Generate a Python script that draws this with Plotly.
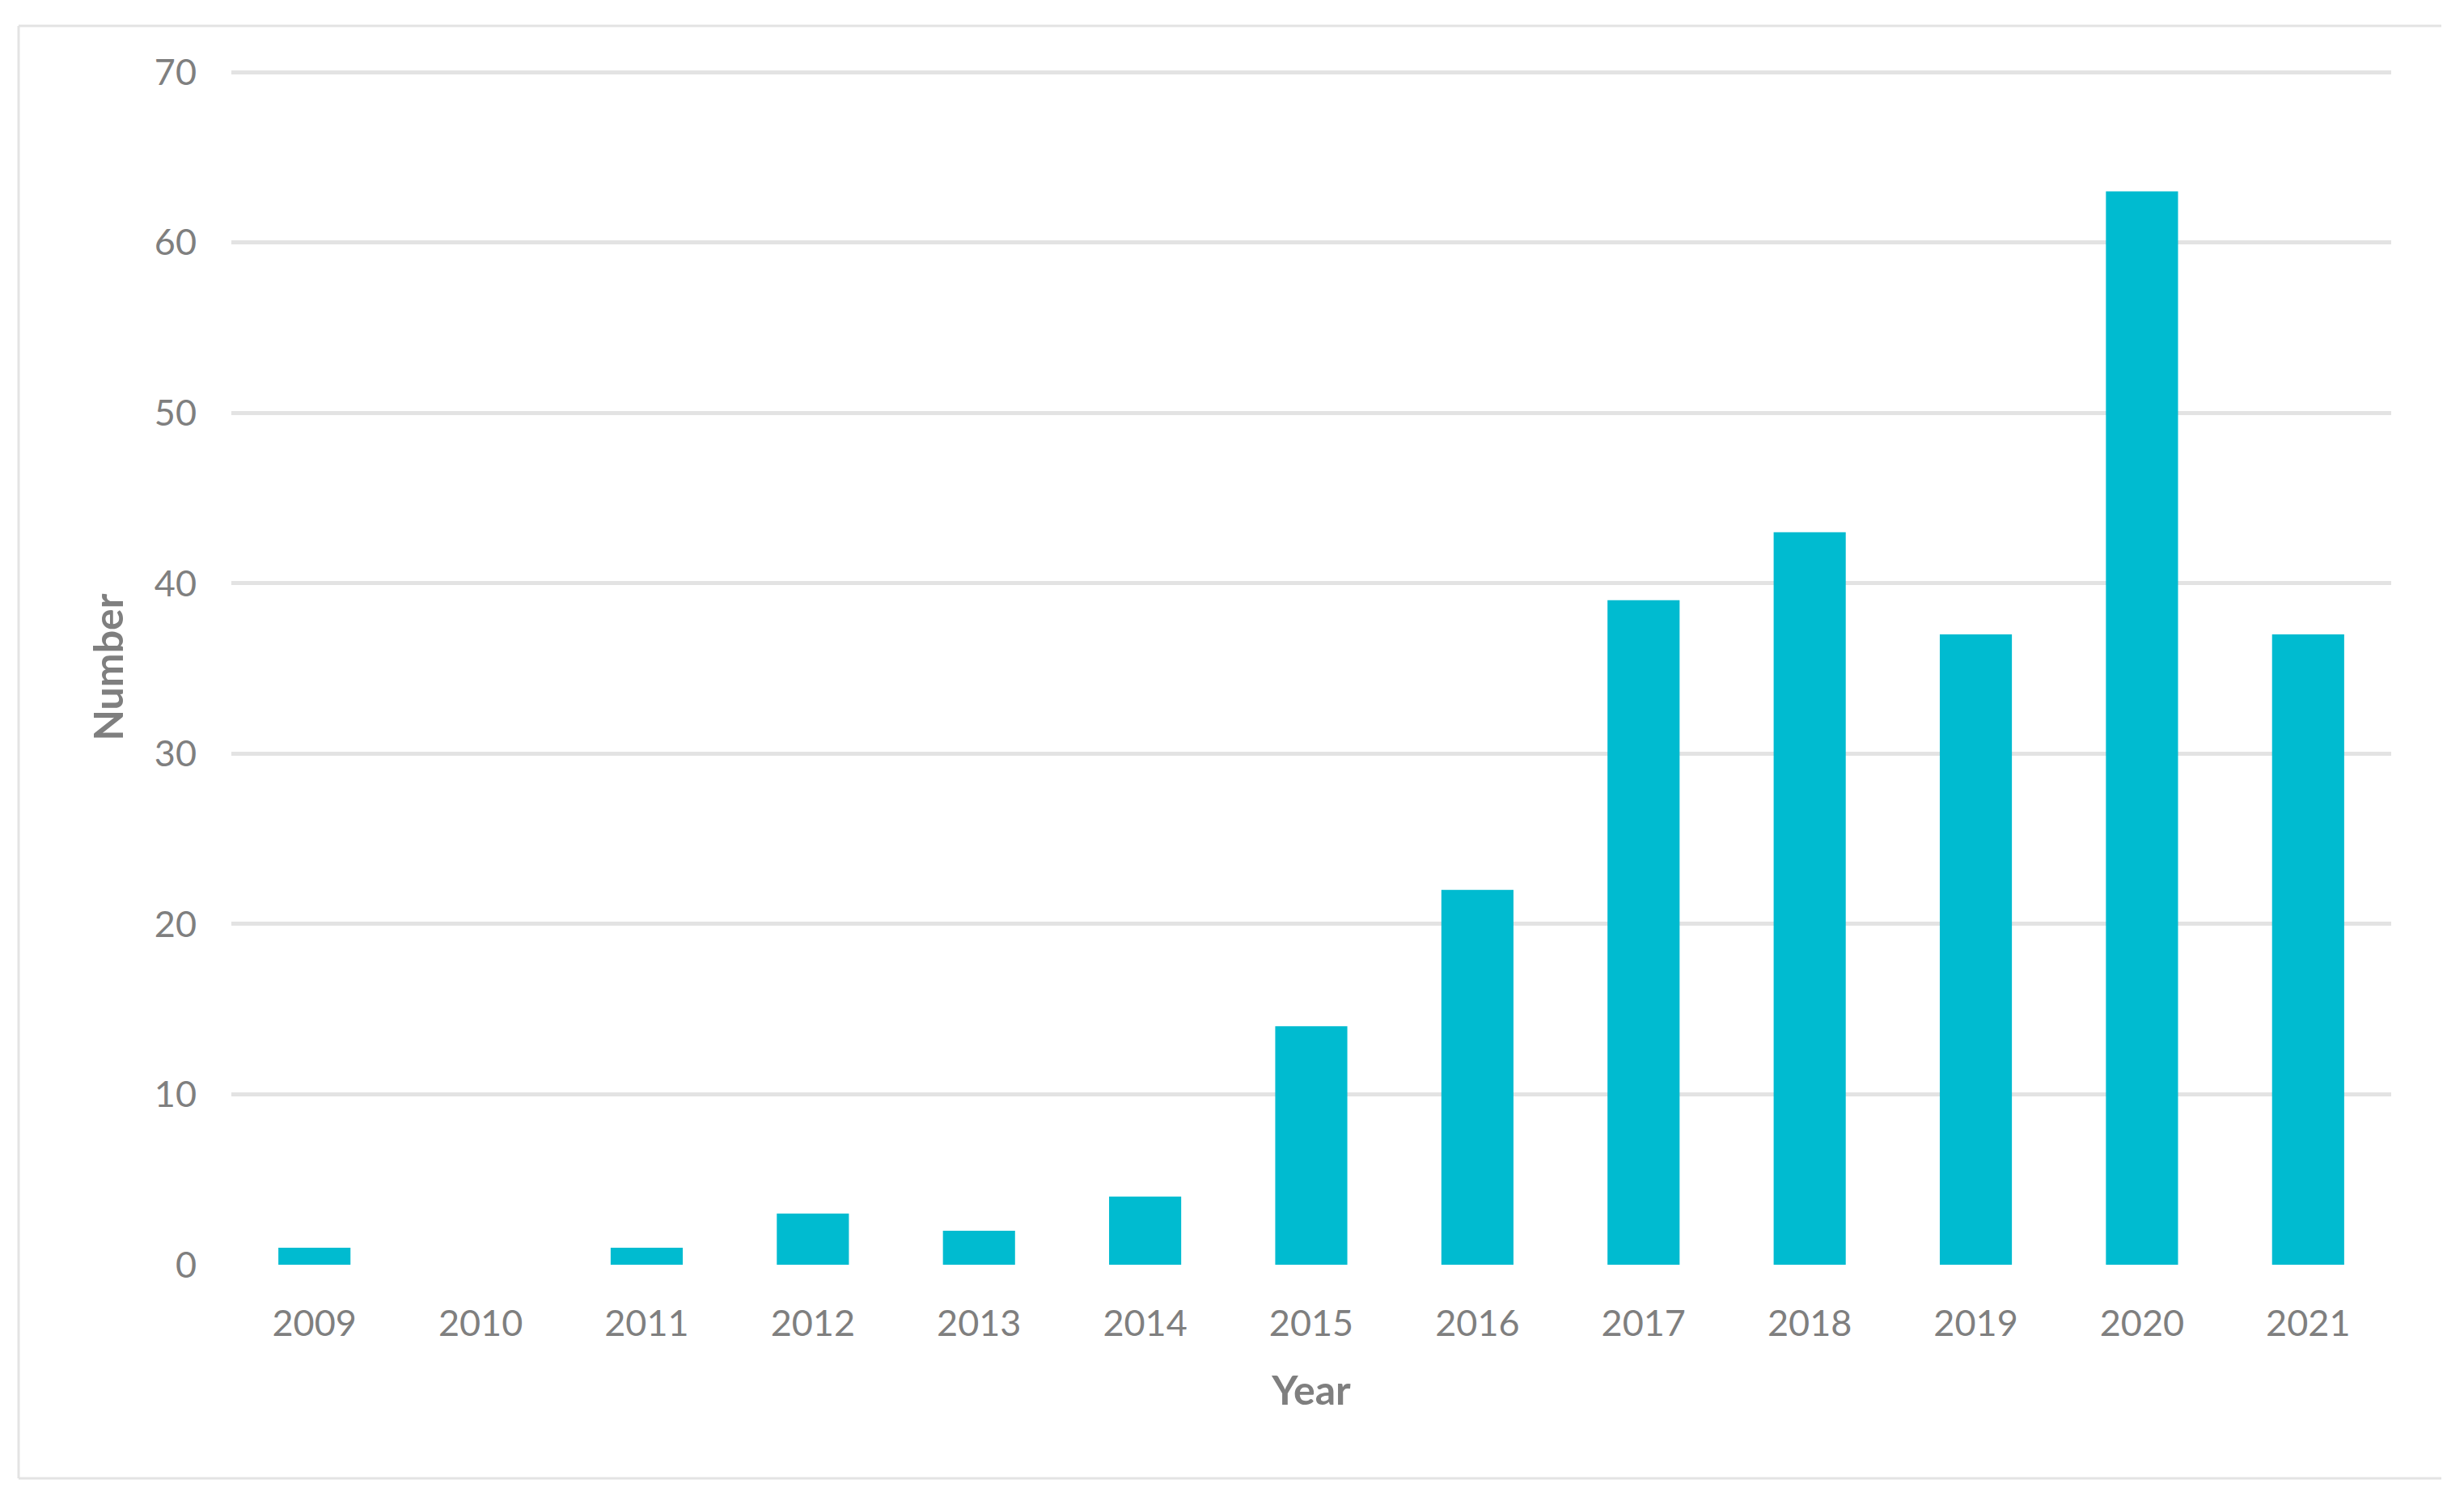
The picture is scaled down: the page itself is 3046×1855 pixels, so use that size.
import plotly.graph_objects as go

years = ["2009", "2010", "2011", "2012", "2013", "2014", "2015",
         "2016", "2017", "2018", "2019", "2020", "2021"]
counts = [1, 0, 1, 3, 2, 4, 14, 22, 39, 43, 37, 63, 37]
y_ticks = [0, 10, 20, 30, 40, 50, 60, 70]

W, H = 3046, 1855
L, R, B = 286, 90, 292
Y_MAX = 70.15
T = 89 - round((Y_MAX - 70) / Y_MAX * (H - 89 - B))

fig = go.Figure(go.Bar(x=years, y=counts, marker_color="#00BBD0",
                       marker_line_width=0))

grey = "#7f7f7f"
font_family = "Lato, 'Open Sans', sans-serif"

fig.update_layout(
    width=W, height=H,
    margin=dict(l=L, r=R, t=T, b=B, autoexpand=False),
    paper_bgcolor="white", plot_bgcolor="white",
    bargap=0.566,
    showlegend=False,
    font=dict(family=font_family, color=grey, size=45),
)

fig.update_xaxes(
    type="category",
    showgrid=False, showline=False, zeroline=False,
    tickfont=dict(size=45, color=grey, family=font_family),
    ticklabelstandoff=42,
    title=dict(text="<b>Year</b>", font=dict(size=50, color=grey, family=font_family),
               standoff=40),
)
fig.update_yaxes(
    range=[0, Y_MAX], tickvals=y_ticks,
    showgrid=True, gridcolor="#e3e3e3", gridwidth=4.5,
    zeroline=False, showline=False,
    tickfont=dict(size=45, color=grey, family=font_family),
    ticklabelstandoff=42,
    title=dict(text="<b>Number</b>", font=dict(size=50, color=grey, family=font_family),
               standoff=22),
)

# outer frame (left, top, bottom edges), in pixel -> paper coordinates
pw, ph = W - L - R, H - T - B
def px(xp):
    return (xp - L) / pw
def py(yp):
    return (H - B - yp) / ph

frame = dict(color="#e3e3e3", width=3)
x0, x1, y0, y1 = px(23), px(3018), py(32), py(1827)
fig.add_shape(type="line", xref="paper", yref="paper", x0=x0, x1=x0, y0=y0, y1=y1, line=frame)
fig.add_shape(type="line", xref="paper", yref="paper", x0=x0, x1=x1, y0=y0, y1=y0, line=frame)
fig.add_shape(type="line", xref="paper", yref="paper", x0=x0, x1=x1, y0=y1, y1=y1, line=frame)

fig.write_html("out.html", config={"displayModeBar": False},
               post_script="document.body.style.margin='0px';")
